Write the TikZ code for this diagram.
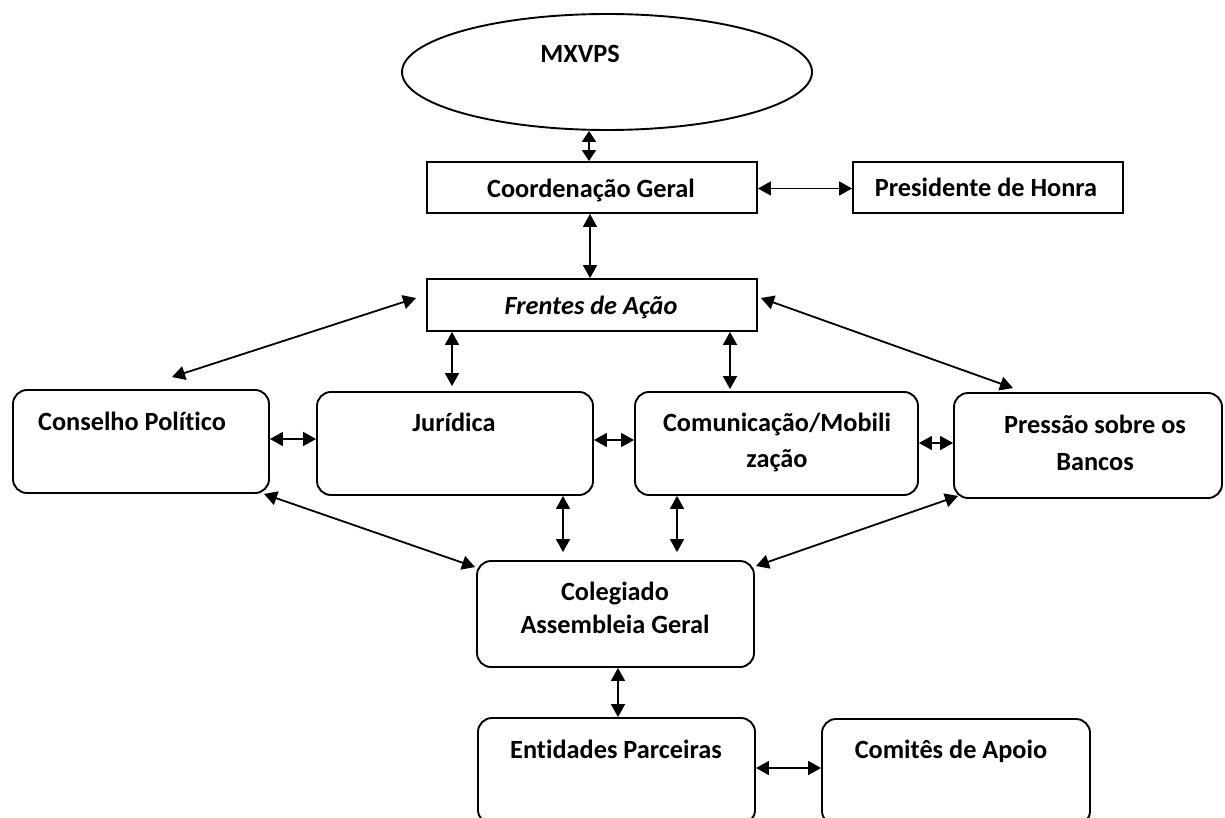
\documentclass[tikz,border=0pt]{standalone}
\usepackage{fontspec}
\setmainfont{Carlito}[Ligatures={NoCommon}]
\usetikzlibrary{arrows.meta,calc,shapes.geometric}
\begin{document}
\begin{tikzpicture}[x=1pt,y=-1pt,
  sq/.style={draw,line width=1.9pt,inner sep=0pt,rectangle},
  rb/.style={sq,rounded corners=14pt},
  lbl/.style={anchor=base,inner sep=0pt,font=\fontsize{26.3}{30}\selectfont\bfseries},
  dbl/.style={{Triangle[length=13pt,width=14pt]}-{Triangle[length=13pt,width=14pt]},line width=1.8pt},
  dbls/.style={{Triangle[length=11pt,width=14pt]}-{Triangle[length=11pt,width=14pt]},line width=1.8pt}
]
\useasboundingbox (0,0) rectangle (1225,818);
\clip (0,0) rectangle (1225,818);
\fill[white] (0,0) rectangle (1225,818);

% nodes
\node[draw,line width=1.9pt,ellipse,inner sep=0pt,minimum width=410pt,minimum height=116pt] (mx) at (607,72) {};
\node[lbl] (mxt) at (580,63) {MXVPS};

\node[sq,minimum width=330pt,minimum height=51pt] (coord) at (592,187.5) {};
\node[lbl] (coordt) at (591,198) {Coordenação Geral};

\node[sq,minimum width=270pt,minimum height=51pt] (pres) at (988,187.5) {};
\node[lbl] (prest) at (986,197) {Presidente de Honra};

\node[sq,minimum width=330pt,minimum height=52pt] (fr) at (592,305) {};
\node[lbl] (frt) at (591,314) {\itshape Frentes de Ação};

\node[rb,minimum width=256pt,minimum height=103pt] (cons) at (141,441.5) {};
\node[lbl] (const) at (132,430) {Conselho Político};

\node[rb,minimum width=276pt,minimum height=103pt] (jur) at (455,443.5) {};
\node[lbl] (jurt) at (454,431) {Jurídica};

\node[rb,minimum width=283pt,minimum height=103pt] (com) at (776.5,443.5) {};
\node[lbl] (comt1) at (777,431) {Comunicação/Mobili};
\node[lbl] (comt2) at (777,467) {zação};

\node[rb,minimum width=268pt,minimum height=105pt] (pb) at (1088,445.5) {};
\node[lbl] (pbt1) at (1095,433) {Pressão sobre os};
\node[lbl] (pbt2) at (1095,470) {Bancos};

\node[rb,minimum width=277pt,minimum height=106pt] (col) at (615.5,614) {};
\node[lbl] (colt1) at (615,600) {Colegiado};
\node[lbl] (colt2) at (615,633) {Assembleia Geral};

\node[rb,minimum width=277pt,minimum height=106pt] (ent) at (616.5,771) {};
\node[lbl] (entt) at (616,758) {Entidades Parceiras};

\node[rb,minimum width=268pt,minimum height=106pt] (cap) at (956,772) {};
\node[lbl] (capt) at (951,758) {Comitês de Apoio};

% connectors
\draw[dbls] ($(mx.south)+(-18,0)$) -- ($(coord.north)+(-3,0)$);
\draw[dbl] ($(coord.east)+(0,1)$) -- ($(pres.west)+(0,1)$);
\draw[dbl] ($(coord.south)+(-2,0)$) -- ($(fr.north)+(-2,0)$);
\draw[dbl] ($(fr.west)+(-10,-7)$) -- ($(cons.north)+(31,-12)$);
\draw[dbl] ($(fr.east)+(3,-7)$) -- ($(pb.north)+(-75,-4)$);
\draw[dbl] ($(fr.south)+(-140,0)$) -- ($(jur.north)+(-3,-5)$);
\draw[dbl] ($(fr.south)+(138,0)$) -- ($(com.north)+(-46.5,-2)$);
\draw[dbl] ($(cons.east)+(0,-2.5)$) -- ($(jur.west)+(0,-4.5)$);
\draw[dbl] ($(jur.east)+(0,-3.5)$) -- ($(com.west)+(0,-3.5)$);
\draw[dbl] ($(com.east)+(0,-0.5)$) -- ($(pb.west)+(0,-2.5)$);
\draw[dbl] ($(cons.south east)+(-6,0)$) -- ($(col.north west)+(-1,7)$);
\draw[dbl] ($(jur.south)+(108,0)$) -- ($(col.north)+(-52.5,-8)$);
\draw[dbl] ($(com.south)+(-99.5,0)$) -- ($(col.north)+(61.5,-8)$);
\draw[dbl] ($(pb.south west)+(5,-3)$) -- ($(col.north east)+(1,6)$);
\draw[dbl] ($(col.south)+(2.5,0)$) -- ($(ent.north)+(1.5,0)$);
\draw[dbl] ($(ent.east)+(0,-3)$) -- ($(cap.west)+(0,-4)$);
\end{tikzpicture}
\end{document}
